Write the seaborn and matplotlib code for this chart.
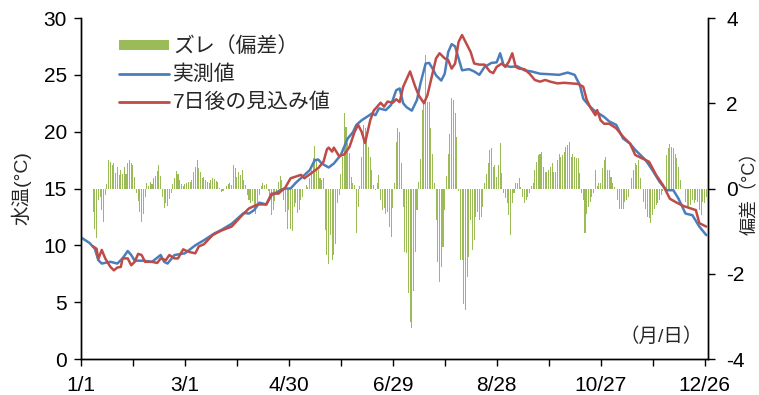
import numpy as np
import pandas as pd
import matplotlib
matplotlib.use("Agg")
import matplotlib.pyplot as plt
from matplotlib.patches import Patch
from matplotlib.lines import Line2D
import seaborn as sns

# day of year (0 = 1/1), x axis labels every 60 days
tick_days = [0, 30, 60, 90, 120, 150, 180, 210, 240, 270, 300, 330, 360]
tick_labels = ["1/1", "", "3/1", "", "4/30", "", "6/29", "", "8/28", "", "10/27", "", "12/26"]

# measured water temperature (blue)
blue_day = [0, 5, 8, 10, 12, 17, 21, 24, 27, 29, 31, 36, 41, 46, 48, 50, 54, 60, 66, 71,
            77, 81, 87, 94, 97, 100, 103, 107, 110, 115, 118, 121, 124, 128, 132, 135, 137, 139, 143, 146,
            150, 154, 157, 159, 162, 165, 168, 170, 172, 176, 179, 182, 184, 186, 188, 191, 194, 196, 199, 201,
            203, 205, 208, 210, 212, 214, 216, 218, 220, 224, 227, 230, 233, 237, 240, 242, 244, 248, 252, 256,
            260, 265, 271, 276, 281, 285, 288, 290, 293, 296, 299, 302, 305, 309, 313, 317, 320, 323, 326, 330,
            334, 338, 342, 345, 349, 353, 357, 361]
blue_temp = [10.7, 10.2, 9.7, 8.7, 8.4, 8.55, 8.4, 8.85, 9.5, 9.15, 8.65, 8.65, 8.55, 9.15, 8.55, 8.4, 9.15, 9.3, 10.0, 10.45,
             11.05, 11.35, 11.9, 12.85, 12.8, 13.1, 13.75, 13.6, 14.4, 14.85, 15.0, 15.0, 15.5, 16.05, 16.6, 17.5, 17.55, 17.2, 16.85, 17.2,
             17.95, 19.4, 19.95, 20.6, 21.0, 21.3, 21.6, 21.45, 22.05, 21.9, 22.35, 23.65, 23.8, 22.5, 22.15, 21.85, 22.8, 24.25, 26.0, 26.05,
             25.55, 24.95, 24.5, 25.1, 27.0, 27.7, 27.5, 26.45, 25.4, 25.5, 25.3, 25.0, 25.7, 26.05, 26.1, 26.9, 25.85, 25.7, 25.75, 25.4,
             25.3, 25.1, 25.05, 25.0, 25.2, 25.0, 24.1, 22.9, 22.35, 21.9, 21.6, 21.3, 20.9, 20.6, 19.4, 18.95, 18.4, 17.95, 17.5, 16.6,
             15.6, 14.85, 14.85, 14.1, 12.8, 12.65, 11.65, 10.9]

# 7-day-ahead forecast (red)
red_day = [7, 9, 10, 12, 14, 17, 19, 21, 23, 24, 27, 29, 31, 33, 35, 37, 41, 44, 46, 49,
           51, 54, 56, 59, 61, 63, 66, 68, 71, 76, 81, 87, 93, 97, 102, 107, 110, 114, 118, 121,
           124, 127, 129, 133, 137, 140, 142, 143, 145, 146, 149, 152, 155, 158, 160, 162, 164, 167, 169, 171,
           173, 175, 177, 180, 182, 184, 186, 190, 193, 195, 198, 200, 202, 205, 207, 210, 212, 214, 216, 218,
           220, 222, 225, 227, 230, 233, 236, 238, 240, 243, 245, 247, 249, 251, 253, 256, 259, 262, 265, 268,
           271, 275, 279, 283, 287, 290, 292, 294, 297, 298, 300, 302, 305, 309, 313, 317, 320, 324, 328, 332,
           336, 340, 344, 348, 352, 355, 357, 361]
red_temp = [9.9, 9.7, 8.8, 9.6, 8.85, 8.1, 7.8, 8.05, 8.1, 8.85, 8.85, 8.25, 8.55, 9.25, 9.15, 8.55, 8.55, 8.45, 8.85, 8.7,
            9.15, 8.85, 8.85, 9.65, 9.5, 9.4, 9.3, 9.9, 10.1, 10.9, 11.3, 11.65, 12.65, 13.25, 13.6, 13.6, 14.55, 14.55, 15.1, 15.9,
            16.05, 16.2, 15.9, 16.35, 16.8, 17.35, 18.45, 18.6, 18.25, 18.6, 17.85, 18.0, 18.65, 20.0, 20.6, 20.0, 19.0, 21.0, 21.85, 22.2,
            22.55, 22.2, 22.65, 22.55, 22.85, 22.6, 23.95, 25.3, 23.95, 23.2, 22.5, 23.2, 24.5, 26.45, 26.9, 26.45, 26.3, 25.55, 26.0, 27.9,
            28.5, 27.9, 27.0, 26.0, 25.9, 25.9, 25.3, 25.15, 25.7, 26.0, 25.7, 26.15, 26.9, 25.7, 25.55, 25.5, 25.1, 24.55, 24.4, 24.55,
            24.4, 24.25, 24.3, 24.25, 24.2, 23.95, 22.8, 22.15, 21.45, 21.9, 21.0, 20.7, 20.7, 20.3, 19.55, 18.95, 17.95, 17.65, 17.35, 16.2,
            15.3, 14.1, 13.75, 13.45, 13.25, 13.1, 11.95, 11.65]

# daily deviation (green bars, right axis), starting at day 7
dev_first_day = 7
deviation = [
    -0.54, -0.94, -1.15, -0.27, -0.19, -0.50, -0.78, -0.15,
    0.10, 0.67, 0.63, 0.55, 0.59, 0.36, 0.51, 0.32, 0.43, 0.35, 0.51, 0.35, 0.59, 0.67, 0.59, 0.55, 0.28,
    -0.10, -0.30, -0.55, -0.78, -0.60, -0.20,
    0.12, 0.05, 0.16, 0.10, 0.25, 0.30, 0.40, 0.55, 0.30,
    -0.20, -0.45, -0.35, -0.40, -0.25, -0.10,
    0.10, 0.25, 0.40, 0.35, 0.20, 0.10, 0.05, 0.10, 0.12, 0.15,
    0.16, 0.20, 0.39, 0.50, 0.68, 0.47, 0.39, 0.24, 0.26, 0.20, 0.16, 0.12, 0.20,
    0.24, 0.22, 0.18, 0.16, 0.02, -0.08, -0.05, 0.00, 0.06, 0.10, 0.12, 0.08,
    0.55, 0.47, 0.26, 0.39, 0.31, 0.43, 0.20, 0.08,
    -0.15, -0.27, -0.35, -0.30, -0.45, -0.60, -0.35, -0.15, 0.05, 0.12, 0.08, 0.10, -0.05,
    -0.27, -0.62, -0.50, -0.30, -0.12, 0.16, 0.30, 0.20,
    -0.27, -0.55, -0.94, -0.50, -0.94, -1.00, -0.43, -0.35, -0.58, -0.50, -0.27, -0.20, 0.00, 0.08, 0.04,
    0.24, 0.43, 0.71, 1.00, 0.67, 0.43, 0.24, 0.20, 0.24,
    -0.97, -1.56, -1.77, -1.10, -1.68, -1.56, -1.29, -0.35, -0.15,
    0.35, 0.75, 1.78, 1.45, 1.06, 0.83, 0.28, 0.12, 0.08, -1.05, -0.43, 0.05,
    0.75, 1.49, 1.41, 1.33, 0.98, 0.75, 0.43, 0.08, -0.04, 0.12, 0.32,
    -0.27, -0.50, -0.45, -0.60, -0.55, -0.90, -1.13, -0.45,
    0.12, 1.10, 1.41, 1.33, 0.59,
    -0.43, -1.48, -1.52, -2.46, -3.13, -3.28, -2.40, -1.48, -0.50,
    0.16, 0.69, 1.84, 2.08, 3.13, 2.04, 2.04, 1.41, 0.82, 0.12,
    -0.74, -1.72, -2.19, -1.84, -1.37, -0.50,
    0.30, 0.82, 1.29, 2.12, 2.08, 1.78, 1.22,
    -0.07, -1.68, -1.68, -2.70, -2.85, -2.07, -1.60, -0.74, -1.44, -1.21, -0.66, -0.54, -0.74, -0.66, -0.43,
    0.12, 0.35, 0.59, 0.90, 0.94, 0.51, 0.55, 0.28, 0.55, 1.06, 0.36,
    -0.11, -0.23, -0.35, -0.62, -1.09, -0.35, -0.10,
    0.12, 0.14, 0.24, 0.04,
    -0.19, -0.35, -0.27, -0.19, -0.11, 0.05,
    0.12, 0.43, 0.63, 0.78, 0.82, 0.86, 0.51, 0.39, 0.39, 0.43, 0.51, 0.59, 0.39, 0.39,
    0.67, 0.82, 0.74, 0.78, 0.86, 0.98, 1.02, 1.10, 0.74, 0.82, 0.74, 0.71, 0.71, 0.36,
    -0.11, -0.27, -1.05, -0.59, -0.43, -0.31, -0.20, -0.11,
    0.43, 0.05, 0.12, 0.12, 0.47, 0.68, 0.73, 0.43, 0.43, 0.28, 0.12, 0.04,
    0.00, -0.27, -0.47, -0.49, -0.47, -0.31, -0.27, -0.19, 0.00,
    0.24, 0.43, 0.59, 0.55, 0.67, 0.24, 0.00,
    -0.31, -0.47, -0.66, -0.70, -0.82, -0.63, -0.47, -0.39, -0.35, -0.27, -0.15, -0.07,
    0.05, 0.78, 0.94, 1.04, 0.98, 0.94, 0.82, 0.71, 0.51, 0.20, 0.00, 0.00,
    -0.31, -0.43, -0.47, -0.39, -0.27, -0.35, -0.27, -0.31, -0.50, -0.62, -0.31, -0.35, -0.20,
]

BLUE = "#4a7ebb"
RED = "#be4b48"
GREEN = "#9bbb59"

sns.set_theme(style="white")
plt.rcParams["font.family"] = ["Liberation Sans", "Noto Sans CJK JP"]
plt.rcParams["axes.unicode_minus"] = False

fig = plt.figure(figsize=(7.59, 3.95), dpi=100)
ax1 = fig.add_axes([0.1067, 0.0911, 0.8261, 0.8633])
ax2 = ax1.twinx()

# bars on the secondary axis, drawn underneath the lines
dev_df = pd.DataFrame({
    "day": np.arange(dev_first_day, dev_first_day + len(deviation)),
    "dev": deviation,
})
ax2.bar(dev_df["day"], dev_df["dev"], width=0.6, color=GREEN, edgecolor="none", linewidth=0)

blue_df = pd.DataFrame({"day": blue_day, "temp": blue_temp})
red_df = pd.DataFrame({"day": red_day, "temp": red_temp})
sns.lineplot(data=blue_df, x="day", y="temp", ax=ax1, color=BLUE, linewidth=1.8, estimator=None)
sns.lineplot(data=red_df, x="day", y="temp", ax=ax1, color=RED, linewidth=1.8, estimator=None)

ax1.set_zorder(ax2.get_zorder() + 1)
ax1.patch.set_visible(False)

ax1.set_xlim(0, 362)
ax1.set_ylim(0, 30)
ax1.set_yticks(range(0, 31, 5))
ax1.set_xticks(tick_days)
ax1.set_xticklabels(tick_labels)
ax2.set_ylim(-4, 4)
ax2.set_yticks([-4, -2, 0, 2, 4])

for ax in (ax1, ax2):
    ax.spines["top"].set_visible(False)
    for s in ("left", "right", "bottom"):
        ax.spines[s].set_color("black")
        ax.spines[s].set_linewidth(1.0)
    ax.tick_params(direction="out", length=5, width=1, color="black",
                   labelsize=15, labelcolor="black", pad=5)
ax1.tick_params(axis="y", left=True, right=False)
ax1.tick_params(axis="x", bottom=True, pad=7)
ax2.tick_params(axis="y", right=True, left=False, pad=8)

ax1.set_xlabel("")
ax1.set_ylabel("水温(°C)", fontsize=14, labelpad=9)
ax2.set_ylabel("偏差（°C）", fontsize=13)
ax2.yaxis.set_label_coords(1.054, 0.5)

ax1.text(0.992, 0.065, "（月/日）", transform=ax1.transAxes, ha="right", va="center",
         fontsize=14)

handles = [
    Patch(facecolor=GREEN, edgecolor="none"),
    Line2D([0], [0], color=BLUE, linewidth=2),
    Line2D([0], [0], color=RED, linewidth=2),
]
labels = ["ズレ（偏差）", "実測値", "7日後の見込み値"]
ax1.legend(handles, labels, loc="upper left", bbox_to_anchor=(0.047, 0.97), frameon=False,
           fontsize=15, handlelength=2.4, handleheight=0.4, handletextpad=0.2,
           labelspacing=0.4, borderaxespad=0)

fig.savefig("out.png", dpi=100)
